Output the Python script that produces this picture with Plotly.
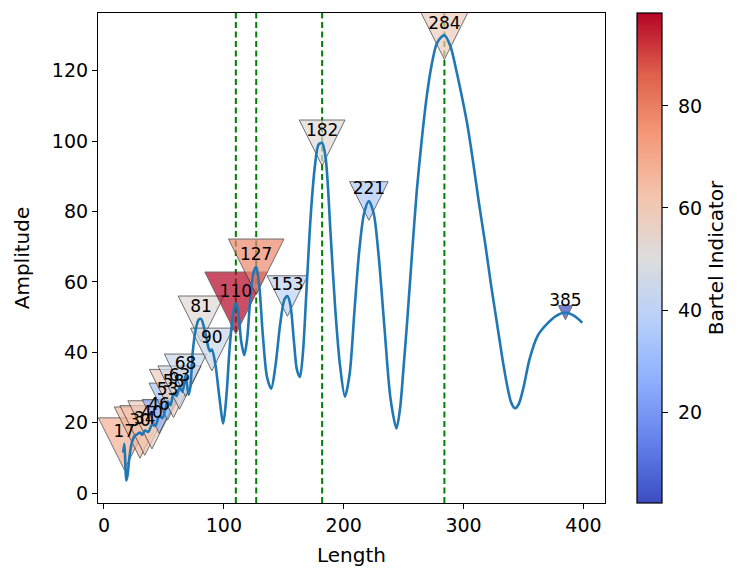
import plotly.graph_objects as go
from plotly.colors import sample_colorscale
import math

# ---------------- data ----------------
length = [16, 17, 17.8, 18.5, 19.5, 21, 23, 25.5, 28, 30, 32, 34, 37, 40, 43, 46, 49,
          53, 55.5, 58, 60.5, 63, 65.5, 68, 70.5, 72, 74, 76.5, 79, 81, 84, 87, 88.5,
          90, 93, 96, 99.5, 102, 105, 108, 110, 112, 114.5, 117, 119.5, 122, 125, 127,
          129.5, 132.5, 136, 139.5, 143, 147, 150.5, 153, 155.5, 158.5, 161, 163.5, 166,
          169, 172.5, 176, 179, 182, 185, 189, 193, 197, 201, 205, 209, 213, 217, 221,
          225, 229, 234, 239, 244, 247, 250, 253, 257, 261, 265, 269, 273, 278, 284,
          289, 294, 299, 303, 308, 313, 318, 323, 328, 333, 337, 340, 343, 346, 350,
          355, 362, 370, 377, 385, 392, 399]
amplitude = [11.5, 14.0, 8.5, 3.6, 4.8, 9.5, 14.0, 16.2, 16.8, 17.2, 16.6, 17.8, 17.4, 19.4,
             19.2, 21.8, 21.4, 26.0, 25.0, 28.3, 27.6, 30.0, 28.8, 33.5, 28.0, 30.0, 40.0,
             46.5, 49.3, 49.5, 46.3, 41.5, 40.3, 40.8, 36.5, 28.0, 19.8, 27.0, 42.0, 51.5,
             54.0, 51.5, 43.0, 39.2, 44.0, 55.0, 63.0, 64.3, 59.0, 45.0, 33.0, 29.7, 36.0,
             48.0, 55.0, 56.0, 53.5, 43.0, 35.0, 33.0, 40.0, 58.0, 79.0, 93.0, 99.0, 99.5,
             95.0, 74.0, 52.0, 36.0, 27.4, 34.0, 52.0, 69.0, 79.5, 83.0, 79.5, 68.0, 47.0,
             27.0, 18.4, 24.0, 36.0, 49.0, 68.0, 86.0, 100.0, 112.0, 121.0, 128.0, 130.1,
             127.0, 120.0, 112.0, 105.0, 94.0, 82.0, 71.0, 59.0, 48.0, 37.0, 29.5, 25.5,
             24.1, 25.3, 30.0, 38.0, 44.8, 48.2, 50.3, 51.3, 50.4, 48.4]

peak_length = [17, 30, 34, 40, 46, 53, 58, 63, 68, 81, 90, 110, 127, 153, 182, 221, 284, 385]
peak_amplitude = [14.0, 17.2, 17.8, 19.4, 21.8, 26.0, 28.3, 30.0, 33.5, 49.5, 40.8, 54.0,
                  64.3, 56.0, 99.5, 83.0, 130.1, 51.3]
bartel = [68, 66, 62, 58, 27, 33, 58, 46, 44, 52, 45, 98.2, 78, 40, 52, 36, 59, 2.2]

dominant_cycles = [110, 127, 182, 284]

x_ticks = [0, 100, 200, 300, 400]
y_ticks = [0, 20, 40, 60, 80, 100, 120]
cbar_ticks = [20, 40, 60, 80]

# ---------------- styling ----------------
coolwarm = [
    [0.0, "rgb(59,76,192)"],
    [0.125, "rgb(98,130,234)"],
    [0.25, "rgb(141,176,254)"],
    [0.375, "rgb(184,208,249)"],
    [0.5, "rgb(221,221,221)"],
    [0.625, "rgb(244,196,173)"],
    [0.75, "rgb(244,154,123)"],
    [0.875, "rgb(222,96,77)"],
    [1.0, "rgb(180,4,38)"],
]
FONT = "DejaVu Sans"
cmin, cmax = min(bartel), max(bartel)

fig = go.Figure()

shapes = []
# peak markers: matplotlib-style 'v' triangles anchored at the data points
for L, A, b in zip(peak_length, peak_amplitude, bartel):
    w = math.sqrt(120 + 38 * b)
    h = w / 2
    col = sample_colorscale(coolwarm, [(b - cmin) / (cmax - cmin)])[0]
    shapes.append(dict(
        type="path", xref="x", yref="y", xsizemode="pixel", ysizemode="pixel",
        xanchor=L, yanchor=A,
        path=f"M{-h:.2f},{h:.2f} L{h:.2f},{h:.2f} L0,{-h:.2f} Z",
        fillcolor=col, line=dict(color="rgb(50,50,50)", width=1), opacity=0.7,
        layer="below",
    ))
# dominant cycle lines
for c in dominant_cycles:
    shapes.append(dict(
        type="line", xref="x", yref="paper", x0=c, x1=c, y0=0, y1=1,
        line=dict(color="green", width=2, dash="6px,3.5px"), layer="below",
    ))

fig.add_trace(go.Scatter(
    x=length, y=amplitude, mode="lines",
    line=dict(color="#1f77b4", width=2.6, shape="spline", smoothing=0.8),
    hoverinfo="skip",
))

fig.add_trace(go.Scatter(
    x=peak_length, y=peak_amplitude, mode="markers+text",
    text=[str(v) for v in peak_length], textposition="top center",
    textfont=dict(family=FONT, size=17, color="black"),
    marker=dict(size=2, color=bartel, colorscale=coolwarm, cmin=cmin, cmax=cmax,
                opacity=0, showscale=True,
                colorbar=dict(
                    thickness=25, len=1, lenmode="fraction", x=1.0625, xanchor="left",
                    xpad=0, y=0.5, yanchor="middle", ypad=0,
                    outlinewidth=1.2, outlinecolor="black",
                    ticks="outside", ticklen=6, tickwidth=1.2, tickcolor="black",
                    tickvals=cbar_ticks, ticktext=[" " + str(t) for t in cbar_ticks],
                    tickfont=dict(family=FONT, size=19, color="black"),
                    title=dict(text="Bartel Indicator", side="right",
                               font=dict(family=FONT, size=20, color="black")),
                )),
    hoverinfo="skip",
))

axis_common = dict(
    showline=True, mirror=True, linecolor="black", linewidth=1.2,
    ticks="outside", ticklen=5, tickwidth=1.2, tickcolor="black",
    showgrid=False, zeroline=False,
    tickfont=dict(family=FONT, size=19, color="black"),
)
# page body has an 8px margin: the figure is sized/margined so the plot area
# lands where the reference's does
fig.update_layout(
    width=736, height=574,
    margin=dict(l=90, r=139, t=5, b=79),
    paper_bgcolor="white", plot_bgcolor="white",
    font=dict(family=FONT, size=19, color="black"),
    showlegend=False,
    shapes=shapes,
    xaxis=dict(range=[-5, 418], tickvals=x_ticks,
               title=dict(text="Length", standoff=13, font=dict(family=FONT, size=20)),
               **axis_common),
    yaxis=dict(range=[-2.8, 136.4], tickvals=y_ticks,
               title=dict(text="Amplitude", standoff=16, font=dict(family=FONT, size=20)),
               **axis_common),
)

fig.write_html("out.html")
